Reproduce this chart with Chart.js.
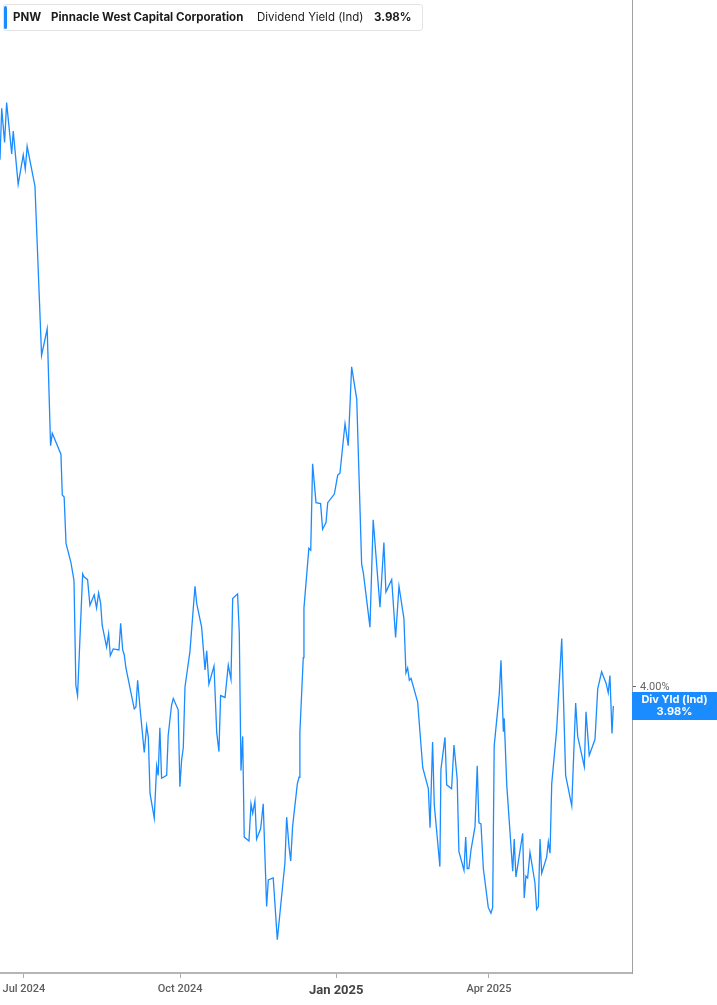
<!DOCTYPE html>
<html>
<head>
<meta charset="utf-8">
<script src="https://cdn.jsdelivr.net/npm/chart.js@4.4.1/dist/chart.umd.min.js"></script>
<style>
  body { margin: 0; background: #fff; }
  #wrap { position: relative; width: 717px; height: 1005px; }
  #legend {
    position: absolute; left: 3px; top: 4px; width: 418px; height: 25px;
    border: 1px solid #e4e4e4; border-radius: 3px; background: #fff;
    font-family: Inter, "Noto Sans", sans-serif; font-size: 11.5px; color: #1b1b1b;
  }
  #legend .bar { position: absolute; left: 0; top: 1px; width: 3px; height: 23px; background: #1a8cff; border-radius: 2px; }
  #legend span { position: absolute; top: 5px; white-space: nowrap; }
  #legend .b { font-weight: 700; }
</style>
</head>
<body>
<div id="wrap">
  <canvas id="chart" width="717" height="1005"></canvas>
  <div id="legend">
    <div class="bar"></div>
    <span class="b" style="left:9px">PNW</span>
    <span class="b" style="left:47px">Pinnacle West Capital Corporation</span>
    <span style="left:253px">Dividend Yield (Ind)</span>
    <span class="b" style="left:370px">3.98%</span>
  </div>
</div>
<script>
// days since 2024-07-01 for each traced point
const dayOffsets = [
  -14.1, -13.1, -11.4, -10.2, -7.2, -6.3, -3.4, -0.4, 0.8, 1.9, 6.5, 10.4, 13.7, 15.7, 16.7, 21.8, 22.6, 23.7, 24.8, 27.7,
  29.5, 30.6, 31.6, 34.6, 35.4, 37.5, 38.9, 41.4, 42.8, 44.0, 45.2, 46.1, 48.7, 49.9, 50.9, 52.6, 56.0, 57.0, 58.2, 59.1,
  60.1, 65.0, 66.0, 67.0, 68.5, 70.9, 72.3, 73.3, 74.3, 76.8, 78.2, 79.1, 80.1, 81.1, 84.1, 85.0, 87.0, 88.0, 90.9, 91.9,
  92.9, 93.9, 94.9, 97.8, 100.8, 101.8, 104.7, 106.7, 107.7, 109.0, 112.0, 113.6, 114.9, 115.9, 118.5, 120.4, 122.0, 123.0, 125.9, 126.9,
  127.9, 128.9, 129.8, 132.6, 133.8, 134.8, 136.1, 137.1, 139.5, 141.0, 143.0, 144.0, 146.9, 149.3, 153.8, 154.8, 156.2, 157.2, 158.3, 161.1,
  162.1, 162.6, 164.6, 165.0, 167.9, 169.0, 170.1, 172.1, 174.8, 176.0, 178.0, 179.0, 182.9, 184.9, 186.2, 189.2, 191.1, 193.1, 196.1, 199.0,
  200.0, 203.9, 205.8, 209.8, 212.1, 213.3, 216.7, 219.0, 221.0, 223.9, 225.1, 226.1, 227.1, 228.1, 232.0, 235.0, 238.3, 239.3, 240.8, 241.8,
  245.1, 245.7, 248.1, 249.1, 252.0, 253.4, 255.3, 256.3, 259.3, 260.3, 261.2, 262.2, 263.4, 265.8, 267.1, 268.1, 269.3, 270.7, 273.6, 275.2,
  276.2, 277.1, 280.1, 281.1, 282.5, 283.0, 284.5, 288.0, 288.9, 289.9, 293.9, 294.8, 295.8, 296.8, 298.2, 301.1, 302.1, 303.1, 304.1, 305.1,
  308.0, 309.0, 310.0, 311.0, 313.9, 316.9, 319.2, 322.8, 325.1, 326.3, 330.2, 331.2, 333.1, 336.5, 338.1, 340.4, 343.0, 344.3, 345.3, 346.5,
  347.3
];

// indicated dividend yield, %
const yields = [
  4.555, 4.609, 4.573, 4.615, 4.561, 4.585, 4.529, 4.560, 4.545, 4.569, 4.527, 4.349, 4.377, 4.254, 4.267, 4.245, 4.202, 4.200, 4.151, 4.131,
  4.112, 4.002, 3.991, 4.119, 4.116, 4.113, 4.086, 4.097, 4.083, 4.099, 4.088, 4.065, 4.042, 4.056, 4.033, 4.040, 4.039, 4.067, 4.039, 4.034,
  4.020, 3.977, 3.979, 4.007, 3.976, 3.931, 3.959, 3.947, 3.888, 3.862, 3.917, 3.907, 3.957, 3.904, 3.907, 3.949, 3.981, 3.988, 3.976, 3.895,
  3.923, 3.936, 4.000, 4.037, 4.106, 4.088, 4.063, 4.018, 4.038, 4.003, 4.022, 3.952, 3.932, 3.991, 3.989, 4.023, 4.008, 4.093, 4.098, 4.057,
  3.912, 3.948, 3.842, 3.838, 3.877, 3.867, 3.880, 3.840, 3.851, 3.877, 3.769, 3.797, 3.799, 3.734, 3.815, 3.863, 3.832, 3.817, 3.853, 3.898,
  3.905, 3.952, 4.031, 4.083, 4.146, 4.144, 4.235, 4.194, 4.193, 4.166, 4.173, 4.194, 4.203, 4.223, 4.225, 4.277, 4.254, 4.337, 4.303, 4.129,
  4.120, 4.063, 4.176, 4.084, 4.152, 4.100, 4.113, 4.052, 4.106, 4.072, 4.015, 4.020, 4.007, 4.009, 3.984, 3.915, 3.893, 3.852, 3.942, 3.876,
  3.811, 3.913, 3.947, 3.897, 3.893, 3.939, 3.903, 3.827, 3.807, 3.842, 3.809, 3.809, 3.828, 3.853, 3.917, 3.857, 3.856, 3.809, 3.768, 3.762,
  3.768, 3.938, 3.993, 4.028, 3.953, 3.967, 3.897, 3.806, 3.840, 3.800, 3.846, 3.778, 3.801, 3.799, 3.826, 3.794, 3.766, 3.769, 3.840, 3.804,
  3.821, 3.837, 3.825, 3.898, 3.955, 4.051, 3.907, 3.875, 3.983, 3.948, 3.916, 3.974, 3.928, 3.945, 3.998, 4.016, 4.004, 3.994, 4.012, 3.951,
  3.980
];

const xTickDays = [0, 92, 184, 274];
const xTickLabels = ['Jul 2024', 'Oct 2024', 'Jan 2025', 'Apr 2025'];
const yTickValues = [4.0];
const lastLabel = ['Div Yld (Ind)', '3.98%'];

const blue = '#1a8cff';

const endLabel = {
  id: 'endLabel',
  afterDraw(chart) {
    const ctx = chart.ctx;
    const y = chart.scales.y.getPixelForValue(yields[yields.length - 1]);
    const left = chart.chartArea.right;
    ctx.save();
    ctx.fillStyle = blue;
    ctx.fillRect(left, y - 14, chart.width - left, 28);
    ctx.fillStyle = '#fff';
    ctx.font = 'bold 11px Inter, "Noto Sans", sans-serif';
    ctx.textAlign = 'center';
    ctx.textBaseline = 'middle';
    const cx = (left + chart.width) / 2;
    ctx.fillText(lastLabel[0], cx, y - 6);
    ctx.fillText(lastLabel[1], cx, y + 6);
    ctx.restore();
  }
};

new Chart(document.getElementById('chart'), {
  type: 'line',
  data: {
    datasets: [{
      label: 'PNW Dividend Yield (Ind)',
      data: dayOffsets.map((d, i) => ({ x: d, y: yields[i] })),
      borderColor: blue,
      borderWidth: 1.3,
      pointRadius: 0,
      tension: 0,
      fill: false
    }]
  },
  options: {
    responsive: false,
    animation: false,
    layout: { padding: 0 },
    plugins: { legend: { display: false }, tooltip: { enabled: false } },
    scales: {
      x: {
        type: 'linear',
        min: -14.1,
        max: 358.3,
        afterBuildTicks: (s) => { s.ticks = xTickDays.map(v => ({ value: v })); },
        afterFit: (s) => { s.height = 32; s.paddingLeft = 0; s.paddingRight = 0; },
        ticks: {
          autoSkip: false,
          maxRotation: 0,
          padding: 5,
          callback: (v) => xTickLabels[xTickDays.indexOf(v)],
          color: (c) => c.tick && c.tick.value === 184 ? '#444' : '#5e5e5e',
          font: (c) => c.tick && c.tick.value === 184
            ? { family: 'Roboto, sans-serif', size: 13, weight: 'bold' }
            : { family: 'Roboto, sans-serif', size: 11, weight: '500' }
        },
        grid: { drawOnChartArea: false, tickLength: 5, color: '#aaa' },
        border: { color: '#b5b5b5', width: 2 }
      },
      y: {
        type: 'linear',
        position: 'right',
        min: 3.699,
        max: 4.723,
        afterBuildTicks: (s) => { s.ticks = yTickValues.map(v => ({ value: v })); },
        afterFit: (s) => { s.width = 85; s.paddingTop = 0; s.paddingBottom = 0; },
        ticks: {
          padding: 4,
          color: '#666',
          font: { family: 'Roboto, sans-serif', size: 11 },
          callback: (v) => v.toFixed(2) + '%'
        },
        grid: { drawOnChartArea: false, tickLength: 4, color: '#666' },
        border: { color: '#a0a0a0', width: 1 }
      }
    }
  },
  plugins: [endLabel]
});
</script>
</body>
</html>
